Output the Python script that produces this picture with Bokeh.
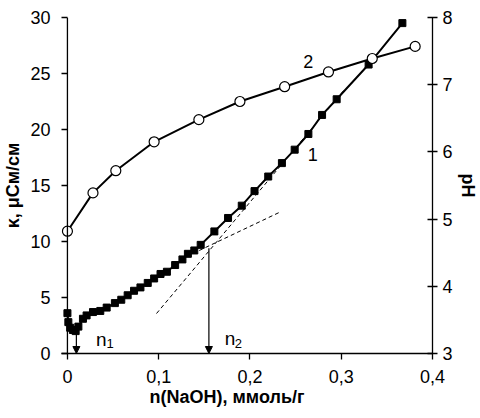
from bokeh.plotting import figure
from bokeh.models import Range1d, LinearAxis, Label, Arrow, NormalHead, FixedTicker, CustomJSTickFormatter, Span
from bokeh.embed import file_html
from bokeh.resources import INLINE

# Curve 1: conductivity (left axis)
n_kappa = [0, 0.001, 0.003, 0.006, 0.009, 0.012, 0.017, 0.021, 0.028, 0.036, 0.043,
           0.052, 0.059, 0.066, 0.073, 0.080, 0.088, 0.095, 0.102, 0.109, 0.118,
           0.126, 0.132, 0.139, 0.146, 0.161, 0.176, 0.191, 0.205, 0.220, 0.235,
           0.249, 0.264, 0.279, 0.295, 0.330, 0.367]
kappa = [3.6, 2.8, 2.3, 2.1, 2.0, 2.4, 3.1, 3.4, 3.7, 3.8, 4.1,
         4.5, 4.8, 5.2, 5.6, 5.9, 6.3, 6.7, 7.1, 7.3, 7.9,
         8.4, 8.9, 9.2, 9.7, 10.9, 12.1, 13.2, 14.5, 15.8, 17.0,
         18.2, 19.6, 21.3, 22.7, 25.8, 29.5]

# Curve 2: pH (right axis)
n_ph = [0, 0.028, 0.053, 0.095, 0.144, 0.189, 0.238, 0.286, 0.334, 0.381]
ph = [4.82, 5.39, 5.72, 6.15, 6.48, 6.75, 6.97, 7.19, 7.39, 7.57]

# Tangent (dashed) lines
tan1_x = [0.0976, 0.3046]
tan1_y = [3.57, 23.66]
tan2_x = [0.1236, 0.2320]
tan2_y = [8.39, 12.59]

# Equivalence points (arrows)
n1_x, n1_top = 0.0098, 2.05
n2_x, n2_top = 0.155, 9.4

x_ticks = [0, 0.1, 0.2, 0.3, 0.4]
y_ticks = [0, 5, 10, 15, 20, 25, 30]
ph_ticks = [3, 4, 5, 6, 7, 8]

FONT = "Liberation Sans"
TICK_SIZE = "18px"
TITLE_SIZE = "18px"

p = figure(width=480, height=418, x_range=Range1d(-0.0065, 0.4), y_range=Range1d(0, 30),
           output_backend="svg", toolbar_location=None,
           min_border_left=58, min_border_right=47, min_border_top=17, min_border_bottom=65)
p.outline_line_color = None
p.grid.visible = False
p.background_fill_color = "white"
p.border_fill_color = "white"

p.extra_y_ranges = {"ph": Range1d(3, 8)}
rax = LinearAxis(y_range_name="ph")
p.add_layout(rax, "right")

xax = p.xaxis[0]
lax = p.yaxis[0]

xax.ticker = FixedTicker(ticks=x_ticks)
xax.formatter = CustomJSTickFormatter(code="return tick == 0 ? '0' : tick.toFixed(1).replace('.', ',');")
lax.ticker = FixedTicker(ticks=y_ticks)
rax.ticker = FixedTicker(ticks=ph_ticks)

for ax in [xax, lax, rax]:
    ax.axis_line_color = "black"
    ax.axis_line_width = 1.3
    ax.major_tick_line_color = "black"
    ax.major_tick_line_width = 1.3
    ax.minor_tick_line_color = None
    ax.major_label_text_font = FONT
    ax.major_label_text_font_size = TICK_SIZE
    ax.major_label_text_color = "black"
    ax.axis_label_text_font = FONT
    ax.axis_label_text_font_size = TITLE_SIZE
    ax.axis_label_text_font_style = "bold"
    ax.axis_label_text_color = "black"
    ax.major_tick_out = 6
    ax.major_tick_in = 0

# left axis: ticks drawn inside the small left pad, vertical line at x = 0
lax.axis_line_color = None
lax.major_tick_in = 6
lax.major_tick_out = 0
lax.major_label_standoff = 11
lax.axis_label = "κ, μСм/см"
lax.axis_label_standoff = 4
p.add_layout(Span(location=0, dimension="height", line_color="black", line_width=1.3))

rax.major_tick_in = 5
rax.major_tick_out = 5
rax.major_label_standoff = 5
rax.axis_label = "pH"
rax.axis_label_standoff = 2

xax.major_label_standoff = 10
xax.axis_label = "n(NaOH), ммоль/г" + "\u00a0" * 8
xax.axis_label_standoff = 1

# dashed tangents
p.line(tan1_x, tan1_y, line_color="black", line_width=1, line_dash="4 3")
p.line(tan2_x, tan2_y, line_color="black", line_width=1, line_dash="4 3")

# curve 1
p.line(n_kappa, kappa, line_color="black", line_width=2)
p.scatter(n_kappa, kappa, marker="square", size=7, fill_color="black", line_color="black")

# curve 2
p.line(n_ph, ph, line_color="black", line_width=2, y_range_name="ph")
p.scatter(n_ph, ph, marker="circle", size=10, fill_color="white", line_color="black",
          line_width=1.2, y_range_name="ph")

# arrows
for ax_x, top in [(n1_x, n1_top), (n2_x, n2_top)]:
    p.add_layout(Arrow(x_start=ax_x, y_start=top, x_end=ax_x, y_end=0,
                       line_color="black", line_width=1.2,
                       end=NormalHead(size=7, fill_color="black", line_color="black", line_width=1)))

def lab(x, y, text, size, align="center", baseline="middle"):
    p.add_layout(Label(x=x, y=y, text=text, text_font=FONT, text_font_size=size,
                       text_align=align, text_baseline=baseline, text_color="black"))

# curve labels
lab(0.2688, 17.77, "1", "18px")
lab(0.2639, 26.03, "2", "18px")
lab(0.0314, 1.25, "n", "19px", align="left", baseline="alphabetic")
lab(0.0428, 0.90, "1", "13px", align="left", baseline="alphabetic")
lab(0.1723, 1.34, "n", "19px", align="left", baseline="alphabetic")
lab(0.1832, 0.90, "2", "13px", align="left", baseline="alphabetic")

open("out.html", "w").write(file_html(p, INLINE))
